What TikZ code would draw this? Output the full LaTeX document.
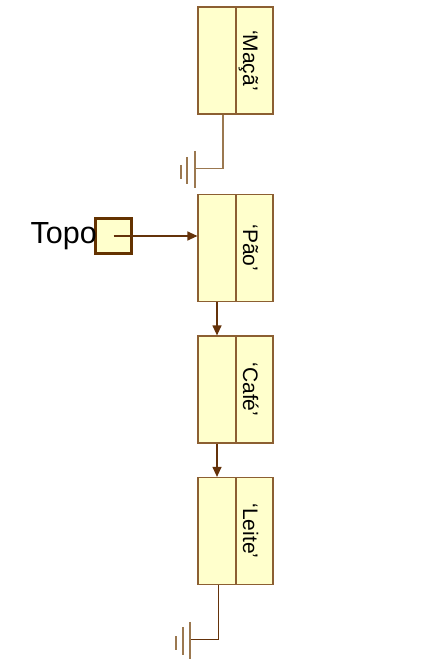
\documentclass[tikz,border=0pt]{standalone}
\usepackage{fontspec}
\setmainfont{Liberation Sans}
\usetikzlibrary{arrows.meta}
\definecolor{cellfill}{RGB}{255,255,204}
\definecolor{cellbord}{RGB}{140,95,50}
\definecolor{arrowc}{RGB}{100,50,10}
\definecolor{gndc}{RGB}{155,120,80}
\definecolor{topobord}{RGB}{100,50,0}
\begin{document}
\begin{tikzpicture}[x=1pt,y=-1pt,
 cellL/.style={draw=cellbord, fill=cellfill, line width=1.2pt, minimum width=38pt, minimum height=107pt, inner sep=0pt},
 cellR/.style={cellL, minimum width=37pt},
 val/.style={rotate=-90, anchor=base, font=\fontsize{21}{21}\selectfont, inner sep=0pt},
 link/.style={draw=arrowc, line width=1.2pt, -{Triangle[length=10pt,width=9pt]}},
 gline/.style={draw=arrowc, line width=1.2pt},
 gline2/.style={draw=gndc, line width=1.2pt},
 gbar/.style={draw=gndc, line width=1.8pt}]
\useasboundingbox (0,0) rectangle (436,671);
% list cells
\node[cellL] (a1) at (217,60.5) {};
\node[cellR] (b1) at (254.5,60.5) {};
\node[val] (t1) at ([xshift=-11.5pt]b1.center) {‘Maçã’};
\node[cellL] (a2) at (217,248) {};
\node[cellR] (b2) at (254.5,248) {};
\node[val] (t2) at ([xshift=-11.5pt]b2.center) {‘Pão’};
\node[cellL] (a3) at (217,389.5) {};
\node[cellR] (b3) at (254.5,389.5) {};
\node[val] (t3) at ([xshift=-11.5pt]b3.center) {‘Café’};
\node[cellL] (a4) at (217,531) {};
\node[cellR] (b4) at (254.5,531) {};
\node[val] (t4) at ([xshift=-11.5pt]b4.center) {‘Leite’};
% topo pointer
\node[draw=topobord, fill=cellfill, line width=2.8pt, minimum width=36.5pt, minimum height=35.5pt, inner sep=0pt] (topo) at (113.5,236) {};
\node[anchor=base east, inner sep=0pt, font=\fontsize{30.5}{30.5}\selectfont] (topolbl) at (97,243.5) {Topo};
\draw[link] (topo.center) -- (topo.center -| a2.west);
% links
\draw[link] (a2.south) -- (a3.north);
\draw[link] (a3.south) -- (a4.north);
% ground 1
\coordinate (g1) at (223,168.3);
\coordinate (e1) at (195,168.3);
\draw[gline2] (g1 |- a1.south) -- (g1) -- (e1);
\draw[gbar] (e1) ++(0,-17.5) -- ++(0,37.5);
\draw[gbar] (e1) ++(-7.7,-11.5) -- ++(0,27.5);
\draw[gbar] (e1) ++(-14.3,-3.3) -- ++(0,14);
% ground 2
\coordinate (g2) at (218.3,639.3);
\coordinate (e2) at (190,639.3);
\draw[gline] (g2 |- a4.south) -- (g2) -- (e2);
\draw[gbar] (e2) ++(0,-17.5) -- ++(0,37.5);
\draw[gbar] (e2) ++(-7.3,-12) -- ++(0,27.7);
\draw[gbar] (e2) ++(-14,-3.3) -- ++(0,13.5);
\end{tikzpicture}
\end{document}
